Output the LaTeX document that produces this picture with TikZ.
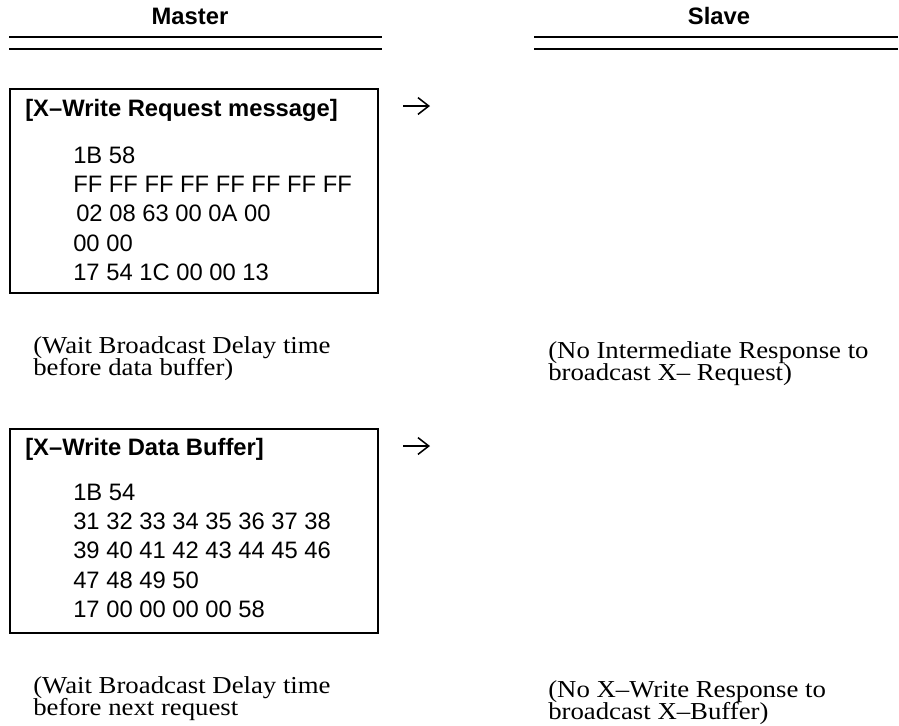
\documentclass[tikz,border=0pt]{standalone}
\usepackage{fontspec}
\setmainfont{Liberation Serif}
\setsansfont{Liberation Sans}
\newfontfamily\notefont[FakeStretch=1.1]{Liberation Serif}
\newcommand{\notelines}{\lineskiplimit=-50pt\relax\lineskip=0pt\relax}
\usetikzlibrary{arrows.meta,positioning}
\tikzset{
  hdr/.style={font=\sffamily\bfseries\fontsize{16.9}{20}\selectfont, inner sep=0pt, anchor=base},
  dbl/.style={line width=1.45pt},
  msgbox/.style={draw, line width=1.45pt, minimum width=9.2cm, minimum height=5.1cm, inner sep=0pt},
  mtitle/.style={font=\sffamily\bfseries\fontsize{16.9}{20}\selectfont, inner sep=0pt, anchor=base west},
  mbyte/.style={font=\sffamily\fontsize{16.9}{20}\selectfont, inner sep=0pt, anchor=base west},
  note/.style={font={\notefont\fontsize{17.3}{15.6}\selectfont\notelines},
               align=left, inner sep=0pt, anchor=base west},
  sendarr/.style={-{Straight Barb[length=2.7mm,width=4.2mm]}, line width=1.1pt},
}

\begin{document}
\begin{tikzpicture}[x=0.025cm, y=-0.025cm]
  \useasboundingbox (0,0) rectangle (899,725);
  % column heads
  \node[hdr] (master) at (190,24) {Master};
  \node[hdr] (slave) at (719,24) {Slave};
  \draw[dbl] (9,37) -- (382,37);
  \draw[dbl] (9,49) -- (382,49);
  \draw[dbl] (534,37) -- (898,37);
  \draw[dbl] (534,49) -- (898,49);

  % request message
  \node[msgbox] (reqbox) at (194,191) {};
  \node[mtitle] (reqtitle) at (25,116) {[X–Write Request message]};
  \node[mbyte] (req1) at (73,163) {1B 58};
  \node[mbyte] (req2) at (73,192) {FF FF FF FF FF FF FF FF};
  \node[mbyte] (req3) at (76,221) {02 08 63 00 0A 00};
  \node[mbyte] (req4) at (73,251) {00 00};
  \node[mbyte] (req5) at (73,280) {17 54 1C 00 00 13};
  \coordinate (reqfrom) at (403,106);
  \coordinate (reqto) at (430,106);
  \draw[sendarr] (reqfrom) -- (reqto);

  \node[note] (waitreq) at (33,375) {(Wait Broadcast Delay time\\before data buffer)};
  \node[note] (noint) at (548,380) {(No Intermediate Response to\\broadcast X– Request)};

  % data buffer
  \node[msgbox] (bufbox) at (194,531) {};
  \node[mtitle] (buftitle) at (25,455) {[X–Write Data Buffer]};
  \node[mbyte] (buf1) at (73,500) {1B 54};
  \node[mbyte] (buf2) at (73,529) {31 32 33 34 35 36 37 38};
  \node[mbyte] (buf3) at (73,558) {39 40 41 42 43 44 45 46};
  \node[mbyte] (buf4) at (73,588) {47 48 49 50};
  \node[mbyte] (buf5) at (73,617) {17 00 00 00 00 58};
  \coordinate (buffrom) at (403,446);
  \coordinate (bufto) at (430,446);
  \draw[sendarr] (buffrom) -- (bufto);

  \node[note] (waitbuf) at (33,715) {(Wait Broadcast Delay time\\before next request};
  \node[note] (noresp) at (548,719) {(No X–Write Response to\\broadcast X–Buffer)};
\end{tikzpicture}
\end{document}
